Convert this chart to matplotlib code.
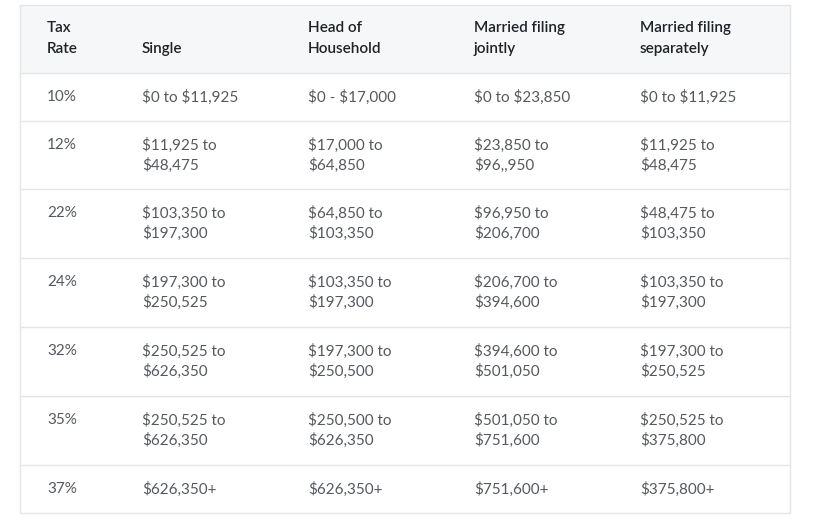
import matplotlib.pyplot as plt
from matplotlib.patches import Rectangle

headers = ["Tax\nRate", "Single", "Head of\nHousehold", "Married filing\njointly", "Married filing\nseparately"]
rates = ["10%", "12%", "22%", "24%", "32%", "35%", "37%"]
single = ["$0 to $11,925", "$11,925 to\n$48,475", "$103,350 to\n$197,300", "$197,300 to\n$250,525",
          "$250,525 to\n$626,350", "$250,525 to\n$626,350", "$626,350+"]
head = ["$0 - $17,000", "$17,000 to\n$64,850", "$64,850 to\n$103,350", "$103,350 to\n$197,300",
        "$197,300 to\n$250,500", "$250,500 to\n$626,350", "$626,350+"]
joint = ["$0 to $23,850", "$23,850 to\n$96,,950", "$96,950 to\n$206,700", "$206,700 to\n$394,600",
         "$394,600 to\n$501,050", "$501,050 to\n$751,600", "$751,600+"]
separate = ["$0 to $11,925", "$11,925 to\n$48,475", "$48,475 to\n$103,350", "$103,350 to\n$197,300",
            "$197,300 to\n$250,525", "$250,525 to\n$375,800", "$375,800+"]

plt.rcParams['font.family'] = ['Lato', 'DejaVu Sans']
plt.rcParams['text.parse_math'] = False
fig = plt.figure(figsize=(8.13, 5.28), dpi=100)
ax = fig.add_axes([0, 0, 1, 1])
ax.set_xlim(0, 813)
ax.set_ylim(528, 0)
ax.axis('off')

left, right, top, head_bottom = 20, 790, 5, 73
row_tops = [73, 121, 189, 258, 327, 396, 465, 513]
col_x = [47, 142, 308, 474, 640]
line_col = '#e3e5e8'

ax.add_patch(Rectangle((left, top), right - left, head_bottom - top, facecolor='#f6f7f9', edgecolor='none'))
ax.add_patch(Rectangle((left, top), right - left, row_tops[-1] - top, facecolor='none', edgecolor=line_col, lw=1))
for y in row_tops[:-1]:
    ax.plot([left, right], [y, y], color=line_col, lw=1)

for x, h in zip(col_x, headers):
    lines = h.split('\n')
    if len(lines) == 1:
        lines = [''] + lines
    for i, t in enumerate(lines):
        ax.text(x, 28 + 21 * i, t, ha='left', va='center', fontsize=11, color='#1f2328', fontweight='semibold')

cols = [rates, single, head, joint, separate]
for r in range(len(rates)):
    y0 = row_tops[r]
    for x, col in zip(col_x, cols):
        for i, t in enumerate(col[r].split('\n')):
            ax.text(x, y0 + 24 + 20 * i, t, ha='left', va='center', fontsize=11, color='#55595f')

fig.savefig('out.png', dpi=100)
